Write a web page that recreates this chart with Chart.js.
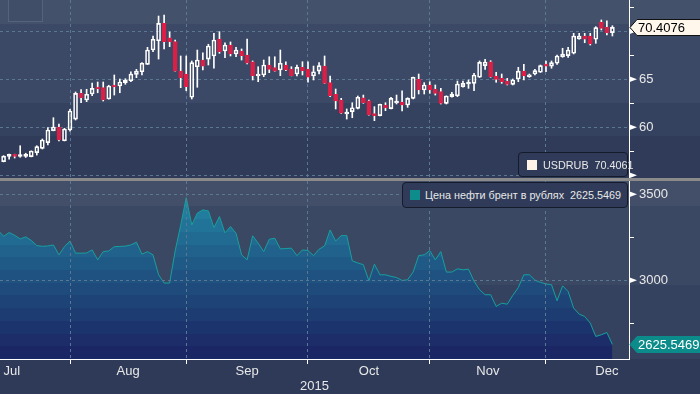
<!DOCTYPE html>
<html>
<head>
<meta charset="utf-8">
<script src="https://cdn.jsdelivr.net/npm/chart.js@4.4.0/dist/chart.umd.min.js"></script>
<style>
  html, body { margin: 0; padding: 0; background: #2e3a57; }
  body { width: 700px; height: 394px; position: relative; overflow: hidden; font-family: "Liberation Sans", Arial, sans-serif; }
  #topChart { position: absolute; left: 0; top: 0;
    background: linear-gradient(to bottom, #44516b 0, #44516b 24px, #3c4966 24px, #3c4966 103px, #35425f 103px, #35425f 136px, #2f3b58 136px); }
  #sep { position: absolute; left: 0; top: 178px; width: 700px; height: 3px; background: #8b8b8b; }
  #bottomChart { position: absolute; left: 0; top: 181px;
    background: linear-gradient(to bottom, #434f69 0, #434f69 25px, #3b4864 25px, #3b4864 104px, #35425f 104px, #35425f 178px, #2e3a57 178px); }
  .legend { position: absolute; box-sizing: border-box; border: 1px solid #141b2a; border-radius: 4px;
    background: #2f3b58; color: #e8e8e8; font-size: 10.8px; white-space: nowrap; display: flex; align-items: center; }
  .legend i { display: inline-block; flex-shrink: 0; width: 10px; height: 10px; margin-right: 6px; }
  .legend b { font-weight: normal; margin-left: 6px; }
  #mini { position: absolute; left: 8px; top: 0; width: 35px; height: 22px; box-sizing: border-box;
    border: 1px solid #56637b; border-top: none; background: #414e68; }
</style>
</head>
<body>
<canvas id="topChart" width="700" height="178"></canvas>
<div id="sep"></div>
<canvas id="bottomChart" width="700" height="213"></canvas>
<div id="mini"></div>
<div class="legend" style="left:518px; top:152px; width:110px; height:25px; padding-left:8px;">
  <i style="background:#fff3e8"></i><span id="usdName"></span><b id="usdValue"></b>
</div>
<div class="legend" style="left:402px; top:182px; width:226px; height:26px; padding-left:7px;">
  <i style="background:#0e8c8c; margin-right:5px"></i><span id="brentName"></span><b id="brentValue"></b>
</div>
<script>
// x = trading session index, 0 = 16 Jul 2015, last = 17 Dec 2015
var months = ['Jul', 'Aug', 'Sep', 'Oct', 'Nov', 'Dec'];
var monthMid = [1.5, 22.5, 44, 66, 87.5, 109];
var monthStarts = [12, 33, 55, 77, 98];
var yearLabel = '2015';

var usdName = 'USDRUB';
var usdLegendValue = '70.4061';
var usdOpen = [56.42, 56.98, 57.04, 56.96, 56.98, 56.94, 57.36, 57.81, 58.40, 59.65,
  60.03, 58.60, 59.72, 60.86, 63.54, 62.84, 63.47, 64.13, 64.13, 62.95,
  64.30, 64.30, 64.65, 64.85, 65.52, 65.79, 66.56, 68.05, 69.02, 70.83,
  69.33, 68.92, 65.86, 65.55, 63.13, 66.31, 67.01, 67.11, 67.43, 69.20,
  67.95, 68.57, 67.64, 67.95, 67.53, 66.83, 65.34, 65.45, 66.49, 66.21,
  65.97, 66.49, 66.07, 65.55, 66.25, 66.04, 65.34, 65.86, 66.38, 64.65,
  63.44, 62.84, 61.39, 61.63, 61.98, 63.08, 62.77, 61.39, 61.21, 62.32,
  61.94, 62.53, 62.64, 62.32, 63.02, 65.00, 63.89, 64.41, 63.99, 63.71,
  62.50, 63.19, 63.29, 64.23, 64.51, 64.58, 65.21, 66.42, 66.83, 65.34,
  65.10, 64.82, 64.48, 65.03, 65.86, 65.27, 65.55, 65.73, 66.49, 66.38,
  66.67, 67.35, 67.46, 67.71, 69.20, 69.51, 69.51, 69.17, 70.94, 70.42,
  69.86];
var usdHigh = [57.05, 57.22, 57.20, 58.08, 57.30, 57.55, 58.08, 58.78, 59.96, 61.00,
  60.34, 59.90, 61.87, 63.68, 63.92, 63.96, 64.61, 64.72, 64.72, 64.38,
  65.45, 65.03, 65.06, 65.79, 66.04, 66.73, 68.33, 69.51, 71.59, 71.70,
  69.93, 69.09, 67.43, 67.43, 66.91, 68.05, 67.77, 68.65, 69.79, 69.96,
  68.81, 68.89, 68.33, 68.16, 69.20, 66.91, 66.31, 67.01, 67.35, 67.35,
  68.05, 66.83, 66.31, 66.49, 66.83, 66.83, 66.38, 66.73, 67.43, 65.34,
  63.99, 63.02, 61.91, 62.56, 63.26, 63.36, 62.84, 62.15, 62.42, 62.56,
  63.13, 63.36, 63.81, 63.08, 65.23, 65.55, 64.65, 64.75, 64.41, 64.06,
  63.28, 63.65, 64.82, 64.82, 64.93, 65.62, 66.91, 67.08, 66.94, 65.73,
  65.55, 65.10, 65.03, 66.25, 66.56, 65.55, 66.04, 66.49, 66.91, 66.91,
  67.53, 68.23, 68.33, 69.79, 69.79, 69.79, 69.79, 70.48, 71.18, 71.10,
  70.58];
var usdLow = [56.40, 56.67, 56.80, 56.88, 56.86, 56.92, 57.11, 57.74, 58.16, 59.63,
  58.57, 58.58, 59.61, 60.76, 62.56, 62.67, 63.29, 63.60, 62.74, 62.93,
  63.36, 63.60, 64.48, 64.75, 65.17, 65.45, 66.54, 67.88, 67.11, 68.16,
  68.40, 65.84, 64.13, 63.81, 62.95, 64.17, 65.97, 66.49, 66.15, 67.71,
  67.25, 67.43, 67.35, 67.01, 66.59, 64.93, 64.75, 65.27, 65.69, 65.84,
  65.38, 65.90, 65.36, 65.34, 65.45, 64.69, 64.93, 65.55, 64.56, 63.19,
  61.91, 61.44, 60.86, 61.00, 61.91, 62.50, 61.26, 60.69, 61.19, 61.73,
  61.91, 62.43, 61.70, 62.08, 62.95, 63.47, 63.47, 63.54, 63.36, 62.43,
  62.43, 63.13, 63.19, 64.17, 64.06, 63.81, 65.19, 66.04, 65.21, 64.69,
  64.58, 64.41, 64.41, 64.75, 64.93, 65.21, 65.45, 65.71, 65.79, 66.15,
  66.56, 67.29, 67.29, 67.64, 69.17, 68.81, 68.57, 68.75, 70.14, 69.61,
  69.51];
var usdClose = [57.00, 57.04, 56.98, 57.02, 57.03, 57.53, 57.98, 58.68, 59.72, 60.03,
  58.68, 59.82, 61.70, 63.54, 63.08, 63.44, 64.06, 63.99, 62.84, 64.30,
  64.20, 64.72, 64.93, 65.55, 65.86, 66.67, 68.05, 69.17, 70.83, 68.92,
  68.92, 65.86, 65.17, 64.23, 66.73, 67.01, 66.38, 68.47, 69.09, 67.88,
  68.57, 67.64, 68.05, 67.46, 66.67, 65.38, 65.55, 66.49, 66.04, 65.86,
  66.67, 65.97, 65.38, 66.25, 65.90, 65.21, 65.79, 66.42, 64.58, 63.29,
  62.74, 61.46, 61.56, 62.04, 63.13, 62.56, 61.28, 61.21, 62.40, 62.04,
  63.02, 62.67, 62.32, 63.02, 65.21, 63.89, 64.41, 63.89, 63.54, 62.50,
  63.26, 63.47, 64.51, 64.58, 64.61, 65.45, 66.77, 66.80, 65.27, 65.00,
  64.75, 64.48, 64.93, 65.86, 65.34, 65.45, 65.90, 66.42, 66.38, 66.73,
  67.43, 67.64, 68.05, 69.51, 69.51, 69.17, 68.68, 70.38, 70.31, 69.86,
  70.4076];
var usdTicks = [55, 57.5, 60, 62.5, 65, 67.5, 70, 72.5];
var usdMajor = [55, 60, 65, 70];
var usdLabels = [60, 65, 70];

var brentName = 'Цена нефти брент в рублях';
var brentFirstDay = -1;
var brent = [3290, 3255, 3277, 3261, 3240, 3252, 3231, 3201, 3197, 3199, 3205,
  3147, 3195, 3228, 3157, 3157, 3158, 3176, 3118, 3166, 3170,
  3195, 3196, 3198, 3205, 3221, 3151, 3166, 3147, 3031, 2983,
  2983, 3170, 3320, 3480, 3321, 3390, 3409, 3403, 3306, 3370,
  3275, 3312, 3273, 3147, 3118, 3258, 3215, 3166, 3238, 3244,
  3182, 3184, 3186, 3143, 3176, 3172, 3143, 3180, 3199, 3292,
  3228, 3259, 3259, 3112, 3100, 3090, 2996, 3093, 3031, 3031,
  3022, 3015, 2998, 3002, 3047, 3143, 3147, 3172, 3118, 3166,
  3047, 3047, 3066, 3060, 3064, 2994, 2944, 2915, 2915, 2847,
  2866, 2860, 2911, 2957, 3031, 3031, 3000, 2987, 2978, 2973,
  2880, 2967, 2934, 2837, 2802, 2788, 2750, 2672, 2682, 2695,
  2625.5469];
var brentTicks = [2750, 3000, 3250, 3500];
var brentMajor = [3000, 3500];
var brentLabels = [3000, 3500];

var xMin = -0.65, xMax = 113;
var gridColor = '#5b7893';
var textColor = '#e8e8e8';
var upColor = '#ffffff', downColor = '#dc1f46';
var clear = 'rgba(0,0,0,0)';
var font = { family: '"Liberation Sans", Arial, sans-serif', size: 13 };

document.getElementById('usdName').textContent = usdName;
document.getElementById('usdValue').textContent = usdLegendValue;
document.getElementById('brentName').textContent = brentName;
document.getElementById('brentValue').textContent = brent[brent.length - 1].toFixed(4);

function tickValue(ctx) {
  return ctx.tick ? ctx.tick.value : null;
}

function noPadding(scale) {
  scale.paddingTop = 0;
  scale.paddingBottom = 0;
  scale.paddingLeft = 0;
  scale.paddingRight = 0;
}

function xScale(showLabels, z) {
  return {
    type: 'linear', min: xMin, max: xMax, offset: false,
    afterBuildTicks: function(scale) {
      scale.ticks = monthStarts.concat(monthMid).sort(function(a, b) { return a - b; })
        .map(function(v) { return { value: v }; });
    },
    afterFit: function(scale) { scale.height = showLabels ? 35 : 0; noPadding(scale); },
    grid: {
      offset: false, z: z, drawTicks: showLabels, tickLength: 5,
      color: function(ctx) { return monthStarts.indexOf(tickValue(ctx)) >= 0 ? gridColor : clear; },
      tickColor: function(ctx) { return monthStarts.indexOf(tickValue(ctx)) >= 0 ? '#ffffff' : clear; }
    },
    border: { display: showLabels, z: z, color: '#ffffff', width: 1, dash: [3, 3] },
    ticks: {
      display: showLabels, z: z, autoSkip: false, maxRotation: 0, padding: 0, color: textColor, font: font,
      callback: function(v) { var k = monthMid.indexOf(v); return k >= 0 ? months[k] : ''; }
    },
    title: { display: showLabels, text: yearLabel, color: textColor, font: font, padding: 0 }
  };
}

function yScale(min, max, ticks, major, labels, z) {
  return {
    position: 'right', min: min, max: max,
    afterBuildTicks: function(scale) { scale.ticks = ticks.map(function(v) { return { value: v }; }); },
    afterFit: function(scale) { scale.width = 71; noPadding(scale); },
    grid: {
      z: z, tickLength: 5,
      color: function(ctx) { return major.indexOf(tickValue(ctx)) >= 0 ? gridColor : clear; },
      tickColor: function(ctx) { return major.indexOf(tickValue(ctx)) >= 0 ? clear : '#ffffff'; }
    },
    border: { z: z, color: '#ffffff', width: 1, dash: [3, 3] },
    ticks: {
      z: z, color: textColor, font: font, padding: 5,
      callback: function(v) { return labels.indexOf(v) >= 0 ? String(v) : ''; }
    }
  };
}

// last value tag and arrow marks on the right axis
var tagPlugin = {
  id: 'lastTag',
  afterDraw: function(chart, args, opts) {
    var ctx = chart.ctx, y = chart.scales.y, x0 = chart.chartArea.right;
    ctx.save();
    ctx.fillStyle = '#ffffff';
    y.ticks.forEach(function(t) {
      if (opts.major.indexOf(t.value) < 0) return;
      var ty = y.getPixelForValue(t.value);
      ctx.beginPath();
      ctx.moveTo(x0, ty - 3);
      ctx.lineTo(x0 + 8, ty);
      ctx.lineTo(x0, ty + 3);
      ctx.closePath();
      ctx.fill();
    });
    var py = Math.round(y.getPixelForValue(opts.value)) + 0.5;
    ctx.beginPath();
    ctx.moveTo(x0 + 1, py);
    ctx.lineTo(x0 + 8, py - 8);
    ctx.lineTo(chart.width + 2, py - 8);
    ctx.lineTo(chart.width + 2, py + 8);
    ctx.lineTo(x0 + 8, py + 8);
    ctx.closePath();
    ctx.fillStyle = opts.bg;
    ctx.fill();
    ctx.strokeStyle = opts.border;
    ctx.lineWidth = 1;
    ctx.stroke();
    ctx.fillStyle = opts.color;
    ctx.font = '13px "Liberation Sans", Arial, sans-serif';
    ctx.textBaseline = 'middle';
    ctx.fillText(opts.value.toFixed(4), x0 + 9, py + 1);
    ctx.restore();
  }
};

function isUp(i) {
  return usdClose[i] >= usdOpen[i];
}

var bodies = usdOpen.map(function(o, i) { return { x: i, y: [o, usdClose[i]] }; });
var upperWicks = usdHigh.map(function(h, i) { return { x: i, y: [Math.max(usdOpen[i], usdClose[i]), h] }; });
var lowerWicks = usdLow.map(function(l, i) { return { x: i, y: [l, Math.min(usdOpen[i], usdClose[i])] }; });

new Chart(document.getElementById('topChart'), {
  type: 'bar',
  data: {
    datasets: [
      {
        data: bodies, grouped: false, barThickness: 4, minBarLength: 2,
        borderWidth: 1, borderSkipped: false,
        backgroundColor: function(ctx) { return isUp(ctx.dataIndex) ? clear : downColor; },
        borderColor: function(ctx) { return isUp(ctx.dataIndex) ? upColor : downColor; }
      },
      { data: upperWicks, grouped: false, barThickness: 1, borderWidth: 0, backgroundColor: upColor },
      { data: lowerWicks, grouped: false, barThickness: 1, borderWidth: 0, backgroundColor: upColor }
    ]
  },
  options: {
    responsive: false, animation: false, events: [],
    layout: { padding: 0, autoPadding: false },
    plugins: {
      legend: { display: false }, tooltip: { enabled: false },
      lastTag: { value: usdClose[usdClose.length - 1], major: usdMajor, bg: '#fff6ec', border: '#111111', color: '#000000' }
    },
    scales: {
      x: xScale(false, -1),
      y: yScale(54.72, 73.26, usdTicks, usdMajor, usdLabels, -1)
    }
  },
  plugins: [tagPlugin]
});

// stepped blue bands under the oil line
function bandFill(context) {
  var chart = context.chart, area = chart.chartArea;
  if (!area) return null;
  var top = [36, 146, 172], bottom = [27, 38, 100], n = 14;
  var g = chart.ctx.createLinearGradient(0, area.top, 0, area.bottom);
  for (var k = 0; k < n; k++) {
    var t = Math.pow(k / (n - 1), 0.85);
    var c = 'rgb(' + [0, 1, 2].map(function(j) { return Math.round(top[j] + (bottom[j] - top[j]) * t); }).join(',') + ')';
    g.addColorStop(k / n, c);
    g.addColorStop((k + 1) / n, c);
  }
  return g;
}

new Chart(document.getElementById('bottomChart'), {
  type: 'line',
  data: {
    datasets: [{
      data: brent.map(function(v, k) { return { x: brentFirstDay + k, y: v }; }),
      borderColor: '#16a09e', borderWidth: 1, pointRadius: 0, tension: 0,
      fill: 'start', backgroundColor: bandFill
    }]
  },
  options: {
    responsive: false, animation: false, events: [],
    layout: { padding: 0, autoPadding: false },
    plugins: {
      legend: { display: false }, tooltip: { enabled: false },
      lastTag: { value: brent[brent.length - 1], major: brentMajor, bg: '#0b8b89', border: '#0b8b89', color: '#ffffff' }
    },
    scales: {
      x: xScale(true, 1),
      y: yScale(2541, 3577, brentTicks, brentMajor, brentLabels, 1)
    }
  },
  plugins: [tagPlugin]
});
</script>
</body>
</html>
